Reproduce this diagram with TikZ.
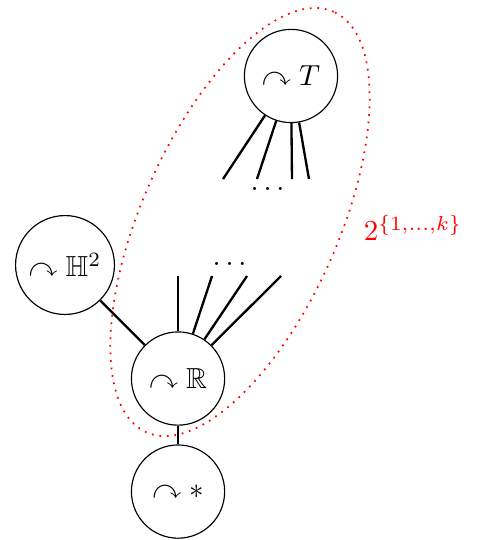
\documentclass[tikz,border=0pt]{standalone}
\usepackage{amsmath, amsfonts, amssymb}
\usepackage{tikz}

\begin{document}
\begin{tikzpicture}[
            vx/.style={circle,draw,inner sep=3pt,minimum size=1.13cm},
            he/.style={thick},
            ed/.style={thick},
            dd/.style={inner sep=0pt},
            grp/.style={red,dotted,semithick}]

            \useasboundingbox (0,0) rectangle (5.782,-6.545);

            % the vertices, each with its action
            \node[vx] (T) at (3.527,-0.921) {$\curvearrowright T$};
            \node[vx] (H) at (0.788,-3.212) {$\curvearrowright \mathbb{H}^2$};
            \node[vx] (R) at (2.158,-4.588) {$\curvearrowright \mathbb{R}$};
            \node[vx] (S) at (2.158,-5.958) {$\curvearrowright *$};

            \draw[ed] (H)--(R);
            \draw[ed] (R)--(S);

            % loose edges at T
            \coordinate (t1) at (2.703,-2.170);
            \coordinate (t2) at (3.115,-2.170);
            \coordinate (t3) at (3.539,-2.170);
            \coordinate (t4) at (3.745,-2.170);
            \draw[he] (T)--(t1); \draw[he] (T)--(t2);
            \draw[he] (T)--(t3); \draw[he] (T)--(t4);
            \node[dd] (tdots) at (3.273,-2.291) {$\dots$};

            % loose edges at R
            \coordinate (r1) at (2.158,-3.345);
            \coordinate (r2) at (2.570,-3.345);
            \coordinate (r3) at (2.994,-3.345);
            \coordinate (r4) at (3.406,-3.345);
            \draw[he] (R)--(r1); \draw[he] (R)--(r2);
            \draw[he] (R)--(r3); \draw[he] (R)--(r4);
            \node[dd] (rdots) at (2.812,-3.205) {$\dots$};

            % the group of 2^k copies
            \draw[grp] (2.909,-2.691) ellipse[x radius=2.79cm,y radius=1.19cm,rotate=66];
            \node[red] (lab) at (5.006,-2.764) {$2^{\{1,\dots,k\}}$};
        \end{tikzpicture}
\end{document}
